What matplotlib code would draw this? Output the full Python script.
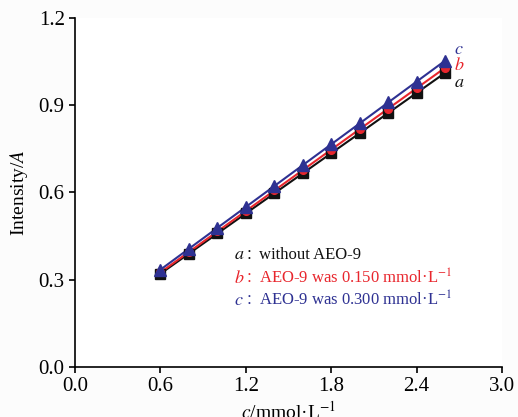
import numpy as np
import matplotlib
matplotlib.use("Agg")
import matplotlib.pyplot as plt

plt.rcParams['font.family'] = ['Liberation Serif', 'Noto Sans CJK SC']
plt.rcParams['mathtext.fontset'] = 'stix'

# 数据
conc = [0.6, 0.8, 1.0, 1.2, 1.4, 1.6, 1.8, 2.0, 2.2, 2.4, 2.6]
int_a = [0.320, 0.390, 0.459, 0.528, 0.597, 0.666, 0.735, 0.803, 0.873, 0.942, 1.011]
int_b = [0.325, 0.395, 0.466, 0.536, 0.607, 0.677, 0.747, 0.818, 0.888, 0.958, 1.028]
int_c = [0.335, 0.406, 0.478, 0.550, 0.622, 0.694, 0.765, 0.838, 0.910, 0.981, 1.052]

BLACK = '#111111'
RED = '#e8262d'
BLUE = '#2e3192'

fig = plt.figure(figsize=(5.18, 4.17), dpi=100)
ax = fig.add_axes([0.145, 0.12, 0.824, 0.837])

series = [
    (int_a, BLACK, 's', 6.5),
    (int_b, RED, 'o', 5.5),
    (int_c, BLUE, '^', 8),
]
x = np.array(conc)
for y, col, mk, ms in series:
    k, b0 = np.polyfit(x, y, 1)
    ax.plot(x, k * x + b0, color=col, lw=1.5, zorder=2)
    ax.plot(x, y, ls='none', marker=mk, ms=ms, color=col, zorder=3)

# 曲线末端标签
ax.text(2.66, 1.092, '$\\it{c}$', color=BLUE, fontsize=13, ha='left', va='center')
ax.text(2.66, 1.036, '$\\it{b}$', color=RED, fontsize=13, ha='left', va='center')
ax.text(2.66, 0.978, '$\\it{a}$', color=BLACK, fontsize=13, ha='left', va='center')

# 图例文字
leg = [
    ('a', 'without AEO-9', BLACK, 0.385),
    ('b', 'AEO-9 was 0.150 mmol·L$^{-1}$', RED, 0.305),
    ('c', 'AEO-9 was 0.300 mmol·L$^{-1}$', BLUE, 0.228),
]
for letter, txt, col, yy in leg:
    ax.text(1.12, yy, '$\\it{%s}$' % letter, color=col, fontsize=13, ha='left', va='center')
    ax.text(1.20, yy, '：', color=col, fontsize=10, ha='left', va='center')
    ax.text(1.29, yy, txt, color=col, fontsize=12, ha='left', va='center')

ax.set_xlim(0, 3.0)
ax.set_ylim(0, 1.2)
ax.set_xticks([0.0, 0.6, 1.2, 1.8, 2.4, 3.0])
ax.set_yticks([0.0, 0.3, 0.6, 0.9, 1.2])
ax.xaxis.set_major_formatter(matplotlib.ticker.FormatStrFormatter('%.1f'))
ax.yaxis.set_major_formatter(matplotlib.ticker.FormatStrFormatter('%.1f'))
ax.tick_params(direction='out', length=4, width=1.2, labelsize=15)
ax.spines['top'].set_visible(False)
ax.spines['right'].set_visible(False)
for s in ('left', 'bottom'):
    ax.spines[s].set_linewidth(1.2)

ax.set_xlabel('$\\it{c}$/mmol·L$^{-1}$', fontsize=14, labelpad=3)
ax.set_ylabel('Intensity/$\\it{A}$', fontsize=14, labelpad=6)

fig.savefig('out.png', dpi=100, facecolor='#fcfcfc')
